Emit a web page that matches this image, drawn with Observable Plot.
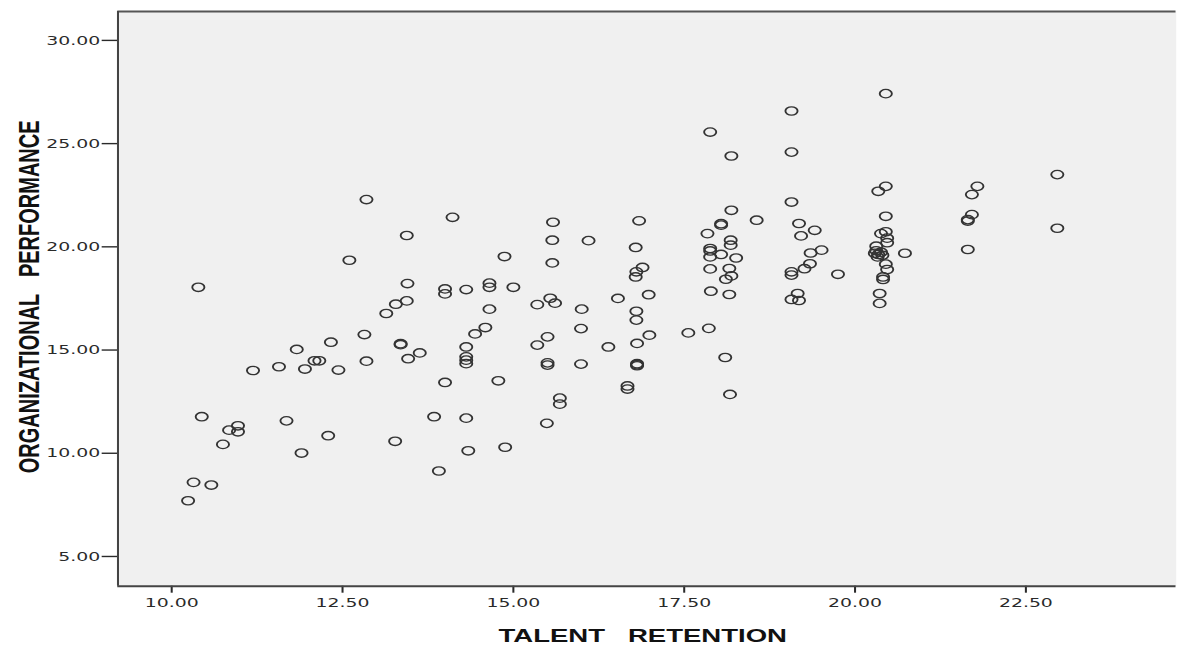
<!DOCTYPE html>
<html><head><meta charset="utf-8">
<script src="https://cdn.jsdelivr.net/npm/d3@7"></script>
<script src="https://cdn.jsdelivr.net/npm/@observablehq/plot@0.6"></script>
<style>html,body{margin:0;padding:0;background:#fff;overflow:hidden}</style>
</head><body><div id="chart"></div>
<script>
// TALENT RETENTION (x) and ORGANIZATIONAL PERFORMANCE (y)
const talentRetention = [
10.44,10.97,10.84,10.97,10.75,11.68,12.29,11.90,10.32,10.58,10.24,14.00,14.78,13.84,14.31,15.49,15.68,15.68,13.27,14.34,
14.88,13.91,12.85,14.11,15.58,13.44,15.57,12.60,14.87,15.57,10.39,13.45,14.00,14.00,14.31,14.65,14.65,15.00,13.44,13.28,
13.14,14.65,15.35,15.54,15.61,12.82,12.33,11.83,13.35,13.35,13.63,13.46,12.85,12.09,12.16,11.95,11.57,11.19,12.44,14.59,
14.44,14.31,14.31,14.31,14.31,15.50,15.35,15.50,15.50,16.10,16.84,16.79,16.89,16.80,16.79,16.00,16.53,16.98,16.80,16.80,
15.99,16.99,16.81,16.39,15.99,16.81,16.81,16.81,16.67,16.67,18.19,17.88,19.07,19.07,20.45,18.19,18.56,18.04,18.04,17.84,
18.18,18.18,17.88,17.88,17.88,18.04,18.26,17.88,18.16,18.19,18.11,17.89,18.16,17.56,17.86,18.10,18.17,19.07,19.18,19.41,
19.21,19.35,19.51,19.34,19.26,19.07,19.07,19.75,19.16,19.07,19.18,20.45,20.34,20.45,20.45,20.38,20.47,20.47,20.31,20.31,
20.34,20.40,20.33,20.29,20.38,20.73,20.45,20.47,20.41,20.41,20.36,20.36,21.79,21.71,21.71,21.65,21.65,21.65,22.96,22.96
];
const orgPerformance = [
11.77,11.33,11.12,11.04,10.43,11.57,10.85,10.01,8.59,8.46,7.70,13.43,13.51,11.77,11.70,11.45,12.67,12.38,10.58,10.12,
10.29,9.14,22.29,21.43,21.19,20.55,20.32,19.35,19.53,19.22,18.04,18.22,17.96,17.72,17.93,18.24,18.04,18.04,17.38,17.22,
16.77,16.98,17.20,17.51,17.27,15.75,15.38,15.03,15.31,15.26,14.86,14.58,14.46,14.48,14.48,14.08,14.19,14.01,14.03,16.09,
15.78,15.15,14.67,14.51,14.34,15.64,15.24,14.38,14.27,20.30,21.26,19.97,19.00,18.79,18.54,16.98,17.50,17.68,16.88,16.45,
16.04,15.72,15.32,15.15,14.32,14.34,14.24,14.29,13.26,13.11,24.40,25.56,26.58,24.59,27.42,21.77,21.29,21.12,21.05,20.64,
20.32,20.08,19.92,19.80,19.51,19.63,19.46,18.93,18.95,18.59,18.43,17.85,17.69,15.83,16.05,14.64,12.85,22.17,21.13,20.80,
20.53,19.70,19.84,19.18,18.94,18.79,18.63,18.67,17.74,17.45,17.40,22.93,22.69,21.48,20.73,20.64,20.42,20.20,20.03,19.81,
19.63,19.59,19.51,19.69,19.74,19.69,19.16,18.90,18.54,18.42,17.74,17.26,22.93,22.53,21.56,21.32,21.25,19.87,23.50,20.90
];
const xTicks = [10, 12.5, 15, 17.5, 20, 22.5];
const yTicks = [5, 10, 15, 20, 25, 30];
const xTitle = "TALENT\u00a0\u00a0\u00a0RETENTION";
const yTitle = "ORGANIZATIONAL\u00a0\u00a0\u00a0PERFORMANCE";

const data = talentRetention.map((x, i) => ({x, y: orgPerformance[i]}));
const W = 1177, H = 647, S = 1.45;
const W0 = Math.round(W / S);
const xDomain = [9.214, 24.70], yDomain = [3.56, 31.40];
const fmt = d => d.toFixed(2);

const svg = Plot.plot({
  width: W0, height: H,
  marginLeft: 117.3 / S, marginRight: (W - 1175.5) / S, marginTop: 11, marginBottom: H - 585.7,
  style: {background: "white", fontFamily: "'DejaVu Sans', sans-serif", fontSize: "13px", color: "#333"},
  x: {domain: xDomain},
  y: {domain: yDomain},
  marks: [
    Plot.frame({fill: "#f0f0f0", stroke: null}),
    Plot.axisX({ticks: xTicks, tickFormat: fmt, tickSize: 7, tickPadding: 5, strokeWidth: 1.4, label: null, fontSize: 13, color: "#2a2a2a"}),
    Plot.axisY({ticks: yTicks, tickFormat: fmt, tickSize: 15.6 / S, tickPadding: 1.5, strokeWidth: 1.4, label: null, fontSize: 13, color: "#2a2a2a"}),
    Plot.ruleY([yDomain[1]], {stroke: "#555", strokeWidth: 2}),
    Plot.ruleY([yDomain[0]], {stroke: "#444", strokeWidth: 2}),
    Plot.ruleX([xDomain[0]], {stroke: "#444", strokeWidth: 1.4}),
    Plot.dot(data, {x: "x", y: "y", r: 4.2, stroke: "#333", strokeWidth: 1.3, fill: "none"}),
    Plot.text([xTitle], {text: d => d, frameAnchor: "bottom", dy: 50, dx: -3, lineAnchor: "middle", textAnchor: "middle",
      fontWeight: "bold", fontSize: 19, fontFamily: "'Liberation Sans', Arial, sans-serif", fill: "#111"}),
    Plot.text([yTitle], {text: d => d, frameAnchor: "left", dx: 20 - 117.3 / S, dy: -2, rotate: -90, lineAnchor: "middle", textAnchor: "middle",
      fontWeight: "bold", fontSize: 20, fontFamily: "'Liberation Sans', Arial, sans-serif", fill: "#111"})
  ]
});
// the reference picture is stretched horizontally; reproduce that stretch
svg.setAttribute("preserveAspectRatio", "none");
svg.setAttribute("width", W);
svg.setAttribute("height", H);
svg.style.width = W + "px";
svg.style.height = H + "px";
svg.style.maxWidth = "none";
document.getElementById("chart").appendChild(svg);
</script>
</body></html>
